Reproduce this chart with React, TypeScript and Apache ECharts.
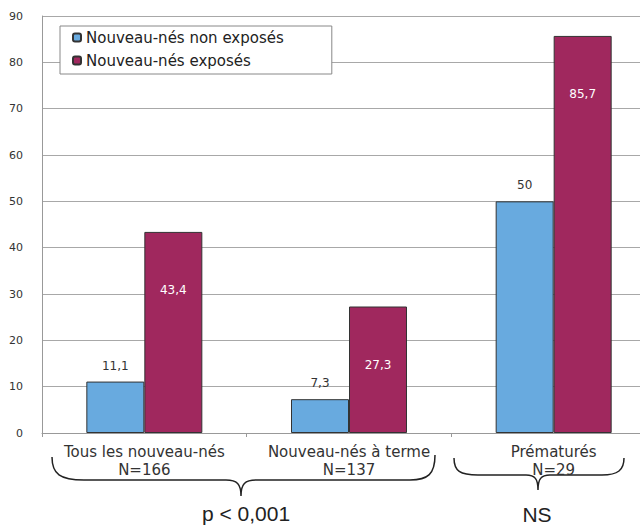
import React, { useEffect, useRef } from 'react';
import * as echarts from 'echarts';

const categories = ['Tous les nouveau-nés\nN=166', 'Nouveau-nés à terme\nN=137', 'Prématurés\nN=29'];
const nonExposes = [11.1, 7.3, 50];
const exposes = [43.4, 27.3, 85.7];
const seriesNames = ['Nouveau-nés non exposés', 'Nouveau-nés exposés'];
const yMin = 0;
const yMax = 90;
const yInterval = 10;
const annotations = ['p < 0,001', 'NS'];

const BRACE1 =
  'M52,457 C52,474 60,480 84,480 L226,480 C237,480 241,484 241,496 C241,484 245,480 256,480 L410,480 C428,480 435,474 435,455';
const BRACE2 =
  'M454,458 C454,471 460,475 478,475 L526,475 C535,475 538,479 538,490 C538,479 541,475 550,475 L602,475 C618,475 624,470 624,458';

echarts.graphic.registerShape('brace1', echarts.graphic.extendPath(BRACE1, {}));
echarts.graphic.registerShape('brace2', echarts.graphic.extendPath(BRACE2, {}));

const FONT = 'DejaVu Sans';
const fmt = (p: any) => String(p.value).replace('.', ',');

export default function App() {
  const ref = useRef<HTMLDivElement>(null);
  useEffect(() => {
    if (!ref.current) return;
    const chart = echarts.init(ref.current, undefined, { renderer: 'svg' });
    chart.setOption({
      animation: false,
      backgroundColor: '#fff',
      textStyle: { fontFamily: FONT },
      grid: {
        left: 42,
        width: 614,
        top: 16,
        bottom: 95,
        containLabel: false,
        outerBoundsMode: 'none',
      },
      legend: {
        orient: 'vertical',
        left: 60,
        top: 26,
        data: seriesNames,
        itemWidth: 8,
        itemHeight: 8,
        itemGap: 8,
        padding: [4, 48, 6, 12],
        borderColor: '#888',
        borderWidth: 1,
        backgroundColor: '#fff',
        textStyle: { fontFamily: FONT, fontSize: 15, color: '#222' },
      },
      xAxis: {
        type: 'category',
        data: categories,
        axisLine: { lineStyle: { color: '#999' } },
        axisTick: { show: true, length: 4, lineStyle: { color: '#999' } },
        axisLabel: {
          fontFamily: FONT,
          fontSize: 15,
          color: '#333',
          lineHeight: 18,
          margin: 10,
          interval: 0,
        },
      },
      yAxis: {
        type: 'value',
        min: yMin,
        max: yMax,
        interval: yInterval,
        axisLine: { show: true, lineStyle: { color: '#999' } },
        axisTick: { show: false },
        splitLine: { lineStyle: { color: '#a8a8a8', width: 1 } },
        axisLabel: { fontFamily: FONT, fontSize: 11, color: '#333', margin: 19 },
      },
      series: [
        {
          name: seriesNames[0],
          type: 'bar',
          data: nonExposes,
          barWidth: 58,
          barGap: '0%',
          itemStyle: { color: '#68aadf', borderColor: '#333', borderWidth: 1 },
          label: {
            show: true,
            position: 'top',
            distance: 10,
            formatter: fmt,
            fontFamily: FONT,
            fontSize: 12,
            color: '#333',
          },
        },
        {
          name: seriesNames[1],
          type: 'bar',
          data: exposes,
          barWidth: 58,
          barGap: '0%',
          itemStyle: { color: '#a0285e', borderColor: '#333', borderWidth: 1 },
          label: {
            show: true,
            position: 'insideTop',
            distance: 52,
            formatter: fmt,
            fontFamily: FONT,
            fontSize: 12,
            color: '#fff',
          },
        },
      ],
      graphic: [
        { type: 'brace1', x: 0, y: 0, style: { stroke: '#222', fill: 'none', lineWidth: 1.5 } },
        { type: 'brace2', x: 0, y: 0, style: { stroke: '#222', fill: 'none', lineWidth: 1.5 } },
        {
          type: 'text',
          x: 246,
          y: 513,
          style: {
            text: annotations[0],
            fontFamily: 'Liberation Sans',
            fontSize: 21,
            fill: '#222',
            align: 'center',
            verticalAlign: 'middle',
          },
        },
        {
          type: 'text',
          x: 537,
          y: 514,
          style: {
            text: annotations[1],
            fontFamily: 'Liberation Sans',
            fontSize: 21,
            fill: '#222',
            align: 'center',
            verticalAlign: 'middle',
          },
        },
      ],
    });
    return () => chart.dispose();
  }, []);
  return (
    <div
      ref={ref}
      style={{ position: 'fixed', left: 0, top: 0, width: 640, height: 528, background: '#fff' }}
    />
  );
}
